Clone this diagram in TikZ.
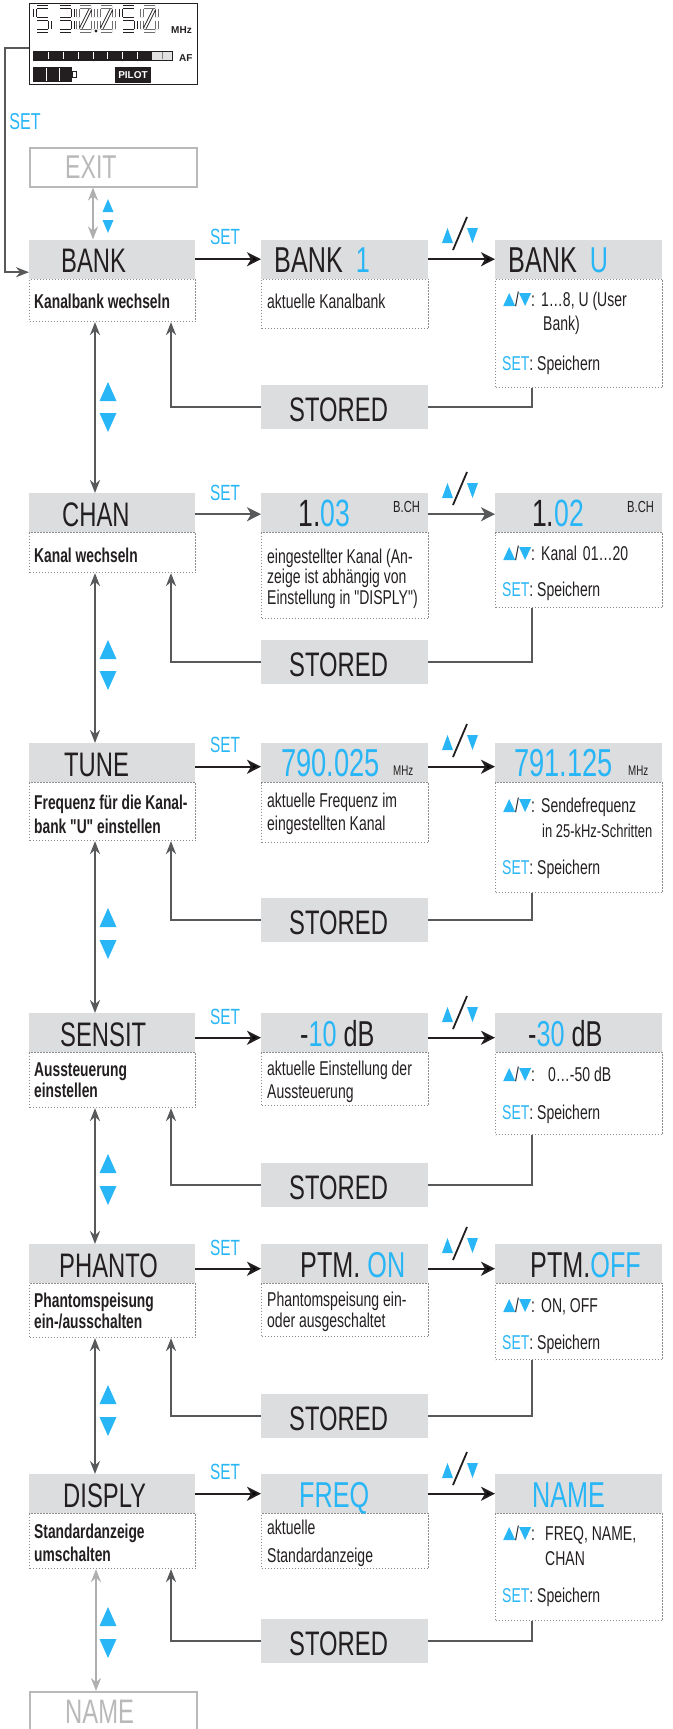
\documentclass[tikz,border=0pt]{standalone}
\usepackage{fontspec}
\usepackage{graphicx}
\usetikzlibrary{arrows.meta,calc}
\newfontfamily\hf{Liberation Sans}[FakeStretch=0.7,Ligatures=TeXOff]
\newfontfamily\cf{Liberation Sans}[FakeStretch=0.70,Ligatures=TeXOff]
\newfontfamily\cbf{Liberation Sans}[FakeStretch=0.69,Ligatures=TeXOff]
\newfontfamily\lcdf{Liberation Sans}
\definecolor{sblue}{RGB}{41,182,246}
\definecolor{hdrgray}{RGB}{220,221,222}
\definecolor{txt}{RGB}{35,31,32}
\definecolor{retcol}{RGB}{88,89,91}
\definecolor{dotgray}{RGB}{140,140,140}
\definecolor{ghostc}{RGB}{185,185,185}
\definecolor{ghostarr}{RGB}{175,175,175}
\definecolor{afgray}{RGB}{225,225,225}
\newcommand\tUp{\tikz[baseline=0pt,x=1pt,y=1pt]\fill[sblue] (0,0) -- (12,0) -- (6,13) -- cycle;}
\newcommand\tDn{\tikz[baseline=0pt,x=1pt,y=1pt]\fill[sblue] (0,13) -- (12,13) -- (6,0) -- cycle;}
\newcommand\tUD[1]{\makebox[#1][l]{\tUp/\tDn:}}
\newcommand\dgFive[1]{\draw[seg] (#1+2,7)--(#1+13,7) (#1,9)--(#1,17) (#1+2,19)--(#1+13,19) (#1+15,21)--(#1+15,29) (#1+2,31)--(#1+13,31);}
\newcommand\dgThree[1]{\draw[seg] (#1+2,7)--(#1+13,7) (#1+15,9)--(#1+15,17) (#1+2,19)--(#1+13,19) (#1+15,21)--(#1+15,29) (#1+2,31)--(#1+13,31);}
\newcommand\dgZero[1]{\draw[seg] (#1+2,7)--(#1+13,7) (#1+15,9)--(#1+15,17) (#1+15,21)--(#1+15,29) (#1+2,31)--(#1+13,31) (#1,21)--(#1,29) (#1,9)--(#1,17) (#1+3,28)--(#1+12,10);}
% blue up/down pair between rows: x, top of up, top of down, width, height
\newcommand\triUD[5]{\fill[sblue] (#1-#4/2,#2+#5) -- (#1+#4/2,#2+#5) -- (#1,#2) -- cycle; \fill[sblue] (#1-#4/2,#3) -- (#1+#4/2,#3) -- (#1,#3+#5) -- cycle;}
% up/down label over the second arrow of a row
\newcommand\udlbl[1]{\fill[sblue] (442,#1-15) -- (453,#1-15) -- (447.5,#1-30) -- cycle; \fill[sblue] (467,#1-30) -- (478,#1-30) -- (472.5,#1-15) -- cycle; \draw[txt,line width=1.8pt] (453,#1-8) -- (467,#1-41);}
\begin{document}
\begin{tikzpicture}[x=1pt,y=-1pt,
 hdr/.style={fill=hdrgray, draw=none, minimum height=39pt, inner sep=0pt, anchor=north west},
 bbox/.style={draw=dotgray, dash pattern=on 1.2pt off 1.8pt, line width=1.1pt, inner sep=0pt, anchor=north west},
 stbox/.style={fill=hdrgray, minimum width=167pt, minimum height=44pt, inner sep=0pt, anchor=north west},
 ghost/.style={draw=ghostc, line width=1.5pt, minimum width=167pt, inner sep=0pt, anchor=north west},
 htl/.style={font=\hf\fontsize{34}{34}\selectfont, text=txt, inner sep=0pt, anchor=base west},
 htm/.style={font=\hf\fontsize{36}{36}\selectfont, text=txt, inner sep=0pt, anchor=base west},
 hnum/.style={font=\hf\fontsize{38}{38}\selectfont, text=txt, inner sep=0pt, anchor=base west},
 hsm/.style={font=\hf\fontsize{16}{16}\selectfont, text=txt, inner sep=0pt, anchor=base west},
 gtxt/.style={font=\hf\fontsize{34}{34}\selectfont, text=ghostc, inner sep=0pt, anchor=base west},
 btxt/.style={font=\cf\fontsize{20}{22}\selectfont, text=txt, inner sep=0pt, anchor=base west},
 bbf/.style={font=\cbf\bfseries\fontsize{20}{22}\selectfont, text=txt, inner sep=0pt, anchor=base west},
 lbl/.style={font=\hf\fontsize{22}{22}\selectfont, text=sblue, inner sep=0pt},
 lcdt/.style={font=\lcdf\bfseries\fontsize{10}{10}\selectfont, text=txt, inner sep=0pt, anchor=base west},
 seg/.style={draw=txt, line width=0.9pt, double=white, double distance=1.6pt},
 fwd/.style={draw=txt, line width=2pt, -{Stealth[length=14pt,width=14pt,inset=4pt]}},
 fwdg/.style={draw=retcol, line width=2pt, -{Stealth[length=14pt,width=14pt,inset=4pt]}},
 ret/.style={draw=retcol, line width=2pt, -{Stealth[length=13pt,width=10pt]}},
 gline/.style={draw=retcol, line width=2pt},
 dbl/.style={draw=retcol, line width=2pt, {Stealth[length=13pt,width=10pt]}-{Stealth[length=13pt,width=10pt]}},
 gdbl/.style={draw=ghostarr, line width=2pt, {Stealth[length=13pt,width=10pt]}-{Stealth[length=13pt,width=10pt]}}
]
\useasboundingbox (0,0) rectangle (672,1729);
\clip (0,0) rectangle (672,1729);

% ---------- LCD ----------
\node[draw=txt, line width=1.3pt, minimum width=168pt, minimum height=81pt, inner sep=0pt, anchor=north west] (lcd) at (29,3) {};
\dgFive{35} \dgThree{58} \dgZero{78} \dgZero{99} \dgFive{121} \dgZero{142}
\fill[txt] (96,31) circle (1.6);
\node[lcdt] (lmhz) at (171,33) {MHz};
\fill[txt] (33,51) rectangle (152,60);
\fill[afgray] (152,51) rectangle (172,60);
\draw[txt, line width=0.8pt] (33,51) rectangle (172,60);
\foreach \xx in {48,63,78,93,107,122,137} \draw[white, line width=1pt] (\xx,52) -- (\xx,59);
\draw[gray, line width=0.6pt] (162,52) -- (162,59);
\node[lcdt] (laf) at (179,61) {AF};
\fill[txt] (33,67) rectangle (72,82);
\foreach \xx in {46,59} \draw[white, line width=1pt] (\xx,68) -- (\xx,81);
\draw[txt, line width=0.8pt, fill=white] (72.5,71.5) rectangle (76.5,77.5);
\node[fill=txt, text=white, font=\lcdf\bfseries\fontsize{10}{10}\selectfont, minimum width=36pt, minimum height=16pt, inner sep=0pt] (pilot) at (133,75) {PILOT};

\node[lbl, font=\hf\fontsize{23}{23}\selectfont] (set0) at (25,121.5) {SET};

% ---------- EXIT ----------
\node[ghost, minimum height=39pt] (exit) at (29,147) {};
\node[gtxt, font=\hf\fontsize{33}{33}\selectfont] (exitT) at (65,178) {EXIT};

% ---------- Row 1 : BANK ----------
\node[bbox, minimum width=166pt, minimum height=42.5pt] (bankB) at (29,278.5) {};
\node[bbox, minimum width=167pt, minimum height=49.5pt] (bank1B) at (261,278.5) {};
\node[bbox, minimum width=167pt, minimum height=108.5pt] (bankUB) at (495,278.5) {};
\node[hdr, minimum width=166pt] (bank) at (29,239.5) {};
\node[hdr, minimum width=167pt] (bank1) at (261,239.5) {};
\node[hdr, minimum width=167pt] (bankU) at (495,239.5) {};
\node[htl] (bankT) at (61,272.5) {BANK};
\node[htm] (bank1T) at (274,272.5) {BANK\hspace{13pt}\textcolor{sblue}{1}};
\node[htm] (bankUT) at (508,272.5) {BANK\hspace{13pt}\textcolor{sblue}{U}};
\node[bbf] (bankL1) at (34,308) {Kanalbank wechseln};
\node[btxt] (bank1L1) at (267,308) {aktuelle Kanalbank};
\node[btxt] (bankUL1) at (503,306) {\tUD{38pt}1…8, U (User};
\node[btxt] (bankUL2) at (543,330) {Bank)};
\node[btxt] (bankUL3) at (502,370) {\textcolor{sblue}{SET}: Speichern};
\node[stbox] (st1) at (261,385) {};
\node[htl] (st1T) at (289,421) {STORED};
\node[lbl] (set1) at (225,237) {SET};

% ---------- Row 2 : CHAN ----------
\node[bbox, minimum width=166pt, minimum height=40pt] (chanB) at (29,532) {};
\node[bbox, minimum width=167pt, minimum height=86pt] (c103B) at (261,532) {};
\node[bbox, minimum width=167pt, minimum height=75pt] (c102B) at (495,532) {};
\node[hdr, minimum width=166pt] (chan) at (29,493) {};
\node[hdr, minimum width=167pt] (c103) at (261,493) {};
\node[hdr, minimum width=167pt] (c102) at (495,493) {};
\node[htl] (chanT) at (62,526) {CHAN};
\node[hnum] (c103T) at (298.5,526) {1.\textcolor{sblue}{03}};
\node[hsm] (c103S) at (393,512) {B.CH};
\node[hnum] (c102T) at (532,526) {1.\textcolor{sblue}{02}};
\node[hsm] (c102S) at (627,512) {B.CH};
\node[bbf] (chanL1) at (34,562) {Kanal wechseln};
\node[btxt] (c103L1) at (267,563) {eingestellter Kanal (An-};
\node[btxt] (c103L2) at (267,583) {zeige ist abhängig von};
\node[btxt] (c103L3) at (267,604) {Einstellung in "DISPLY")};
\node[btxt] (c102L1) at (503,560) {\tUD{38pt}Kanal\hspace{6pt}01…20};
\node[btxt] (c102L2) at (502,596) {\textcolor{sblue}{SET}: Speichern};
\node[stbox] (st2) at (261,640) {};
\node[htl] (st2T) at (289,676) {STORED};
\node[lbl] (set2) at (225,493) {SET};

% ---------- Row 3 : TUNE ----------
\node[bbox, minimum width=166pt, minimum height=58pt] (tuneB) at (29,782) {};
\node[bbox, minimum width=167pt, minimum height=60pt] (f790B) at (261,782) {};
\node[bbox, minimum width=167pt, minimum height=110pt] (f791B) at (495,782) {};
\node[hdr, minimum width=166pt] (tune) at (29,743) {};
\node[hdr, minimum width=167pt] (f790) at (261,743) {};
\node[hdr, minimum width=167pt] (f791) at (495,743) {};
\node[htl] (tuneT) at (64,776) {TUNE};
\node[hnum, font=\hf\fontsize{39}{39}\selectfont, text=sblue] (f790T) at (281,776) {790.025};
\node[hsm, font=\hf\fontsize{14}{14}\selectfont] (f790S) at (393,775) {MHz};
\node[hnum, font=\hf\fontsize{39}{39}\selectfont, text=sblue] (f791T) at (514,776) {791.125};
\node[hsm, font=\hf\fontsize{14}{14}\selectfont] (f791S) at (628,775) {MHz};
\node[bbf] (tuneL1) at (34,809) {Frequenz für die Kanal-};
\node[bbf] (tuneL2) at (34,833) {bank "U" einstellen};
\node[btxt] (f790L1) at (267,807) {aktuelle Frequenz im};
\node[btxt] (f790L2) at (267,830) {eingestellten Kanal};
\node[btxt] (f791L1) at (503,812) {\tUD{38pt}Sendefrequenz};
\node[btxt, font=\cf\fontsize{18.5}{20}\selectfont] (f791L2) at (542,837) {in 25-kHz-Schritten};
\node[btxt] (f791L3) at (502,874) {\textcolor{sblue}{SET}: Speichern};
\node[stbox] (st3) at (261,898) {};
\node[htl] (st3T) at (289,934) {STORED};
\node[lbl] (set3) at (225,745) {SET};

% ---------- Row 4 : SENSIT ----------
\node[bbox, minimum width=166pt, minimum height=55pt] (sensB) at (29,1052) {};
\node[bbox, minimum width=167pt, minimum height=53pt] (s10B) at (261,1052) {};
\node[bbox, minimum width=167pt, minimum height=82pt] (s30B) at (495,1052) {};
\node[hdr, minimum width=166pt] (sens) at (29,1013) {};
\node[hdr, minimum width=167pt] (s10) at (261,1013) {};
\node[hdr, minimum width=167pt] (s30) at (495,1013) {};
\node[htl] (sensT) at (60,1046) {SENSIT};
\node[htm] (s10T) at (300,1046) {-\textcolor{sblue}{10} dB};
\node[htm] (s30T) at (528,1046) {-\textcolor{sblue}{30} dB};
\node[bbf] (sensL1) at (34,1076) {Aussteuerung};
\node[bbf] (sensL2) at (34,1097) {einstellen};
\node[btxt] (s10L1) at (267,1075) {aktuelle Einstellung der};
\node[btxt] (s10L2) at (267,1098) {Aussteuerung};
\node[btxt] (s30L1) at (503,1081) {\tUD{45pt}0…-50 dB};
\node[btxt] (s30L2) at (502,1119) {\textcolor{sblue}{SET}: Speichern};
\node[stbox] (st4) at (261,1163) {};
\node[htl] (st4T) at (289,1199) {STORED};
\node[lbl] (set4) at (225,1017) {SET};

% ---------- Row 5 : PHANTO ----------
\node[bbox, minimum width=166pt, minimum height=54pt] (phB) at (29,1283) {};
\node[bbox, minimum width=167pt, minimum height=53pt] (ponB) at (261,1283) {};
\node[bbox, minimum width=167pt, minimum height=76pt] (poffB) at (495,1283) {};
\node[hdr, minimum width=166pt] (ph) at (29,1244) {};
\node[hdr, minimum width=167pt] (pon) at (261,1244) {};
\node[hdr, minimum width=167pt] (poff) at (495,1244) {};
\node[htl] (phT) at (59,1277) {PHANTO};
\node[htm] (ponT) at (300,1277) {PTM.\ \textcolor{sblue}{ON}};
\node[htm] (poffT) at (530,1277) {PTM.\textcolor{sblue}{OFF}};
\node[bbf] (phL1) at (34,1307) {Phantomspeisung};
\node[bbf] (phL2) at (34,1328) {ein-/ausschalten};
\node[btxt] (ponL1) at (267,1306) {Phantomspeisung ein-};
\node[btxt] (ponL2) at (267,1327) {oder ausgeschaltet};
\node[btxt] (poffL1) at (503,1312) {\tUD{38pt}ON, OFF};
\node[btxt] (poffL2) at (502,1349) {\textcolor{sblue}{SET}: Speichern};
\node[stbox] (st5) at (261,1394) {};
\node[htl] (st5T) at (289,1430) {STORED};
\node[lbl] (set5) at (225,1248) {SET};

% ---------- Row 6 : DISPLY ----------
\node[bbox, minimum width=166pt, minimum height=55pt] (dispB) at (29,1513) {};
\node[bbox, minimum width=167pt, minimum height=55pt] (freqB) at (261,1513) {};
\node[bbox, minimum width=167pt, minimum height=107pt] (nameB) at (495,1513) {};
\node[hdr, minimum width=166pt] (disp) at (29,1474) {};
\node[hdr, minimum width=167pt] (freq) at (261,1474) {};
\node[hdr, minimum width=167pt] (name) at (495,1474) {};
\node[htl] (dispT) at (63,1507) {DISPLY};
\node[htm, text=sblue] (freqT) at (299,1507) {FREQ};
\node[htm, text=sblue] (nameT) at (532,1507) {NAME};
\node[bbf] (dispL1) at (34,1538) {Standardanzeige};
\node[bbf] (dispL2) at (34,1561) {umschalten};
\node[btxt] (freqL1) at (267,1534) {aktuelle};
\node[btxt] (freqL2) at (267,1562) {Standardanzeige};
\node[btxt] (nameL1) at (503,1540) {\tUD{42pt}FREQ, NAME,};
\node[btxt] (nameL2) at (545,1565) {CHAN};
\node[btxt] (nameL3) at (502,1602) {\textcolor{sblue}{SET}: Speichern};
\node[stbox] (st6) at (261,1619) {};
\node[htl] (st6T) at (289,1655) {STORED};
\node[lbl] (set6) at (225,1472) {SET};

% ---------- NAME (ghost) ----------
\node[ghost, minimum height=60pt] (gname) at (29,1691) {};
\node[gtxt] (gnameT) at (65,1723) {NAME};

% ---------- connectors ----------
\draw[ret] ([yshift=-4pt]lcd.west) -- ++(-24,0) |- ([yshift=-13pt]bank.west);
\draw[gdbl] ([xshift=64pt]exit.south west) -- ([xshift=64pt]bank.north west);
\triUD{108}{199}{220}{11}{13}

\draw[fwd] (bank.east) -- (bank1.west);
\draw[fwd] (bank1.east) -- (bankU.west);
\udlbl{258}
\draw[gline] ([xshift=37pt]bankUB.south west) |- (st1.east);
\draw[ret] (st1.west) -| ([xshift=142pt]bankB.south west);
\draw[dbl] ([xshift=66pt]bankB.south west) -- ([xshift=66pt]chan.north west);
\triUD{108}{382}{413}{17}{19}

\draw[fwdg] ([yshift=-1.5pt]chan.east) -- ([yshift=-1.5pt]c103.west);
\draw[fwdg] ([yshift=-1.5pt]c103.east) -- ([yshift=-1.5pt]c102.west);
\udlbl{513}
\draw[gline] ([xshift=37pt]c102B.south west) |- (st2.east);
\draw[ret] (st2.west) -| ([xshift=142pt]chanB.south west);
\draw[dbl] ([xshift=66pt]chanB.south west) -- ([xshift=66pt]tune.north west);
\triUD{108}{640}{671}{17}{19}

\draw[fwd] ([yshift=-4pt]tune.east) -- ([yshift=-4pt]f790.west);
\draw[fwd] ([yshift=-4pt]f790.east) -- ([yshift=-4pt]f791.west);
\udlbl{765}
\draw[gline] ([xshift=37pt]f791B.south west) |- (st3.east);
\draw[ret] (st3.west) -| ([xshift=142pt]tuneB.south west);
\draw[dbl] ([xshift=66pt]tuneB.south west) -- ([xshift=66pt]sens.north west);
\triUD{108}{908}{940}{17}{19}

\draw[fwd] ([yshift=-5pt]sens.east) -- ([yshift=-5pt]s10.west);
\draw[fwd] ([yshift=-5pt]s10.east) -- ([yshift=-5pt]s30.west);
\udlbl{1037}
\draw[gline] ([xshift=37pt]s30B.south west) |- (st4.east);
\draw[ret] (st4.west) -| ([xshift=142pt]sensB.south west);
\draw[dbl] ([xshift=66pt]sensB.south west) -- ([xshift=66pt]ph.north west);
\triUD{108}{1154}{1186}{17}{19}

\draw[fwd] ([yshift=-5pt]ph.east) -- ([yshift=-5pt]pon.west);
\draw[fwd] ([yshift=-5pt]pon.east) -- ([yshift=-5pt]poff.west);
\udlbl{1268}
\draw[gline] ([xshift=37pt]poffB.south west) |- (st5.east);
\draw[ret] (st5.west) -| ([xshift=142pt]phB.south west);
\draw[dbl] ([xshift=66pt]phB.south west) -- ([xshift=66pt]disp.north west);
\triUD{108}{1385}{1417}{17}{19}

\draw[fwd] (disp.east) -- (freq.west);
\draw[fwd] (freq.east) -- (name.west);
\udlbl{1493}
\draw[gline] ([xshift=37pt]nameB.south west) |- (st6.east);
\draw[ret] (st6.west) -| ([xshift=142pt]dispB.south west);
\draw[gdbl] ([xshift=67pt]dispB.south west) -- ([xshift=67pt]gname.north west);
\triUD{108}{1607}{1639}{17}{19}
\end{tikzpicture}
\end{document}
